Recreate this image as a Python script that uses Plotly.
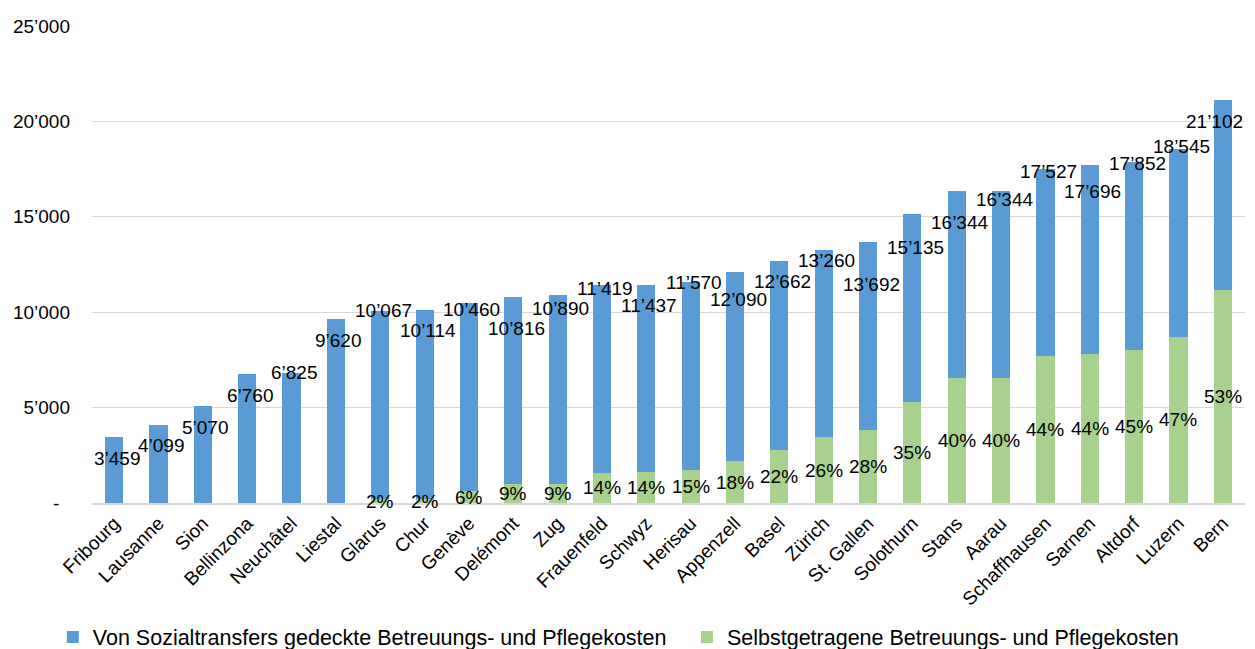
import plotly.graph_objects as go

cities = ["Fribourg", "Lausanne", "Sion", "Bellinzona", "Neuchâtel", "Liestal", "Glarus", "Chur",
          "Genève", "Delémont", "Zug", "Frauenfeld", "Schwyz", "Herisau", "Appenzell", "Basel",
          "Zürich", "St. Gallen", "Solothurn", "Stans", "Aarau", "Schaffhausen", "Sarnen",
          "Altdorf", "Luzern", "Bern"]
totals = [3459, 4099, 5070, 6760, 6825, 9620, 10067, 10114, 10460, 10816, 10890, 11419, 11437,
          11570, 12090, 12662, 13260, 13692, 15135, 16344, 16344, 17527, 17696, 17852, 18545, 21102]
self_share_pct = [0, 0, 0, 0, 0, 0, 2, 2, 6, 9, 9, 14, 14, 15, 18, 22, 26, 28, 35, 40, 40, 44, 44,
                  45, 47, 53]
tick_vals = [0, 5000, 10000, 15000, 20000, 25000]
tick_text = ["-\u2007", "5\u2019000", "10\u2019000", "15\u2019000", "20\u2019000", "25\u2019000"]
series_names = ["Von Sozialtransfers gedeckte Betreuungs- und Pflegekosten",
                "Selbstgetragene Betreuungs- und Pflegekosten"]

# label placement (pixel offsets of the total labels relative to bar tops)
total_label_dy = [-21, -21, -21, -21, 0, -21, 0, -20, -6, -32, -13, -3, -21, 0, -27, -20, -10,
                  -43, -33, -31, -8, -3, -26, -1, 3, -21]
total_label_dx = [3] * 25 + [-8]

green = [t * p / 100 for t, p in zip(totals, self_share_pct)]
blue = [t - g for t, g in zip(totals, green)]

BLUE = "#5B9BD5"
GREEN = "#A9D18E"
FONT = "Liberation Sans, Arial, sans-serif"
FS = 19

fig = go.Figure()
fig.add_trace(go.Bar(x=cities, y=green, name=series_names[1], marker_color=GREEN,
                     marker_line_width=0, width=0.41, legend="legend2"))
fig.add_trace(go.Bar(x=cities, y=blue, name=series_names[0], marker_color=BLUE,
                     marker_line_width=0, width=0.41, legend="legend"))

def fmt(v):
    return f"{v:,}".replace(",", "\u2019")

annotations = []
for c, t, dx, dy in zip(cities, totals, total_label_dx, total_label_dy):
    annotations.append(dict(x=c, y=t, text=fmt(t), showarrow=False, xanchor="center",
                            yanchor="middle", xshift=dx, yshift=dy,
                            font=dict(family=FONT, size=FS, color="black")))
for c, g, p in zip(cities, green, self_share_pct):
    if p > 0:
        annotations.append(dict(x=c, y=g / 2, text=f"{p}%", showarrow=False, xanchor="center",
                                yanchor="middle", font=dict(family=FONT, size=FS, color="black")))

legend_common = dict(orientation="h", xanchor="left", y=-0.281, yanchor="middle",
                     font=dict(family=FONT, size=21.5, color="black"), itemclick=False,
                     bgcolor="rgba(0,0,0,0)")

fig.update_layout(
    width=1247, height=641,
    margin=dict(l=84, r=10, t=18, b=146, autoexpand=False),
    barmode="stack",
    plot_bgcolor="white", paper_bgcolor="white",
    font=dict(family=FONT, size=FS, color="black"),
    annotations=annotations,
    showlegend=True,
    legend=dict(x=-0.034, **legend_common),
    legend2=dict(x=0.516, **legend_common),
    bargap=0.59,
)
fig.update_yaxes(range=[0, 25000], tickvals=tick_vals, ticktext=tick_text,
                 showgrid=True, gridcolor="#d9d9d9", gridwidth=1, zeroline=False,
                 showline=False, ticks="", ticklabelstandoff=21, automargin=False,
                 tickfont=dict(family=FONT, size=FS, color="black"))
fig.update_xaxes(tickangle=-45, showline=True, linecolor="#d9d9d9", linewidth=1.5,
                 ticks="", automargin=False, tickfont=dict(family=FONT, size=FS, color="black"),
                 range=[-0.5, 25.5])

fig.write_html("out.html")
